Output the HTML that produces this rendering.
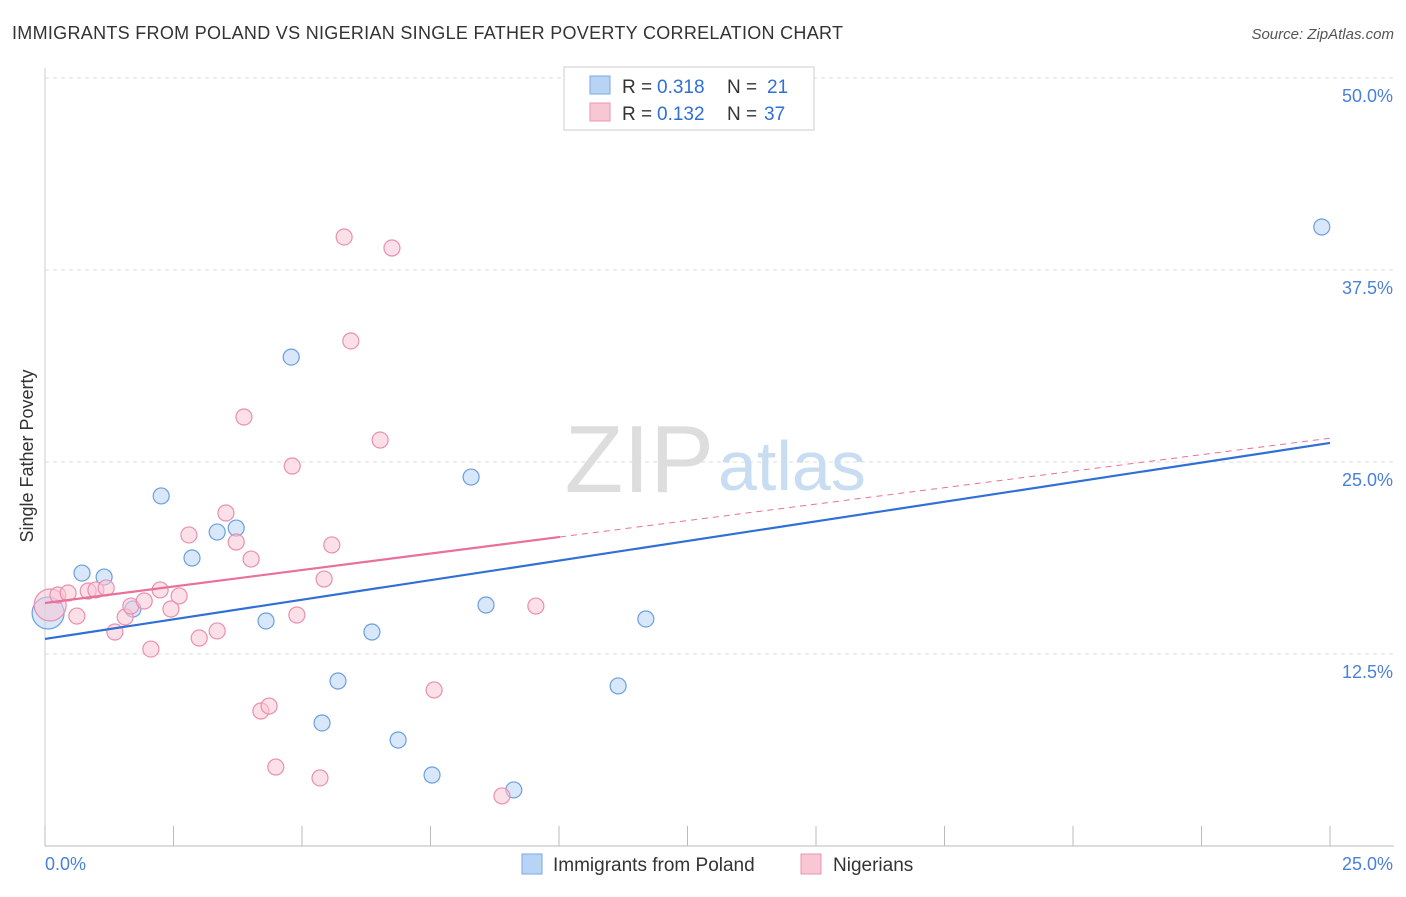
<!DOCTYPE html>
<html><head><meta charset="utf-8"><style>
body{margin:0;background:#fff;font-family:"Liberation Sans",sans-serif;}
svg text{font-family:"Liberation Sans",sans-serif;}
</style></head><body>
<svg width="1406" height="892" viewBox="0 0 1406 892">
<text x="12" y="39" font-size="18" fill="#333" textLength="831">IMMIGRANTS FROM POLAND VS NIGERIAN SINGLE FATHER POVERTY CORRELATION CHART</text>
<text x="1394" y="39" font-size="15" fill="#555" font-style="italic" text-anchor="end">Source: ZipAtlas.com</text>
<text x="33" y="456" font-size="18" fill="#333" transform="rotate(-90 33 456)" text-anchor="middle">Single Father Poverty</text>
<g id="grid"></g>
<text x="714" y="492" font-size="96" fill="#ddd" text-anchor="end" font-family="Liberation Serif">ZIP</text>
<text x="718" y="490" font-size="70" fill="#c8dcf2">atlas</text>
<g id="marks"></g>
<g>
<rect x="564" y="67" width="250" height="63" fill="#fff" stroke="#ccc"/>
<rect x="590" y="76" width="20" height="18" fill="#b8d4f5" stroke="#7aaae0"/>
<text x="622" y="93" font-size="19" fill="#333">R =</text>
<text x="657" y="93" font-size="19" fill="#2f6fd6">0.318</text>
<text x="727" y="93" font-size="19" fill="#333">N =</text>
<text x="767" y="93" font-size="19" fill="#2f6fd6">21</text>
<rect x="590" y="103" width="20" height="18" fill="#f9c6d6" stroke="#ea94b0"/>
<text x="622" y="120" font-size="19" fill="#333">R =</text>
<text x="657" y="120" font-size="19" fill="#2f6fd6">0.132</text>
<text x="727" y="120" font-size="19" fill="#333">N =</text>
<text x="764" y="120" font-size="19" fill="#2f6fd6">37</text>
</g>
<g>
<rect x="522" y="854" width="20" height="20" fill="#b8d4f5" stroke="#7aaae0"/>
<text x="553" y="871" font-size="19" fill="#333">Immigrants from Poland</text>
<rect x="801" y="854" width="20" height="20" fill="#f9c6d6" stroke="#ea94b0"/>
<text x="833" y="871" font-size="19" fill="#333">Nigerians</text>
</g>
</svg>
<script>
const yTicks=[12.5,25,37.5,50];
const yTickLabels=["12.5%","25.0%","37.5%","50.0%"];
const xTickLabels=["0.0%","25.0%"];
const polandX=[0.06,0.72,1.15,1.71,2.26,2.86,3.35,3.72,4.30,4.79,5.39,5.70,6.36,6.87,7.53,8.29,8.58,9.12,11.15,11.69,24.84];
const polandY=[15.17,17.77,17.51,15.43,22.79,18.75,20.44,20.70,14.65,31.83,8.01,10.74,13.93,6.90,4.62,24.02,15.69,3.65,10.42,14.78,40.30];
const nigX=[0.10,0.25,0.45,0.62,0.84,0.99,1.19,1.36,1.56,1.67,1.93,2.06,2.24,2.45,2.61,2.80,3.00,3.35,3.52,3.72,3.87,4.01,4.20,4.36,4.49,4.81,4.90,5.35,5.43,5.58,5.82,5.95,6.52,6.75,7.57,8.89,9.55];
const nigY=[15.69,16.34,16.47,14.97,16.60,16.67,16.80,13.93,14.91,15.62,15.95,12.82,16.67,15.43,16.28,20.25,13.54,14.00,21.68,19.79,27.93,18.68,8.79,9.11,5.14,24.74,15.04,4.43,17.38,19.60,39.65,32.88,26.43,38.93,10.16,3.26,15.62];
const polandTrend=[13.48,26.24];
const nigTrend=[15.82,26.55];
const nigSolidEnd=10.02;
const X=v=>45+v/25*1285, Y=v=>846-v/12.5*192;
const NS="http://www.w3.org/2000/svg";
function mk(t,a,p){const e=document.createElementNS(NS,t);for(const k in a)e.setAttribute(k,a[k]);p.appendChild(e);return e;}
const g=document.getElementById('grid'), m=document.getElementById('marks');
yTicks.forEach((t,i)=>{
 const l=mk('line',{x1:45,x2:1394,y1:Y(t),y2:Y(t),stroke:'#ddd','stroke-dasharray':'4 4'},g);
 
 
 const tx=mk('text',{x:1393,y:Y(t)+24,'font-size':18,fill:'#4a80d8','text-anchor':'end'},g);tx.textContent=yTickLabels[i];
 
 
});
const ax=mk('line',{x1:45,x2:1394,y1:846,y2:846,stroke:'#bbb'},g);


const ay=mk('line',{x1:45,x2:45,y1:68,y2:846,stroke:'#ccc'},g);


for(let i=0;i<=10;i++){const x=45+i*128.5;const t=mk('line',{x1:x,x2:x,y1:826,y2:846,stroke:'#bbb'},g);
 
 }
xTickLabels.forEach((s,i)=>{const t=mk('text',{x:i?1393:45,y:870,'font-size':18,fill:'#4a80d8','text-anchor':i?'end':'start'},g);t.textContent=s;
 
 });
function pts(xs,ys,fill,stroke,name){xs.forEach((x,i)=>{const c=mk('circle',{cx:X(x),cy:Y(ys[i]),r:i==0?16:8,fill:fill,'fill-opacity':0.55,stroke:stroke,'stroke-width':1.2},m);
 
 });}
pts(polandX,polandY,'#b8d4f5','#6a9fe0','poland-point');
pts(nigX,nigY,'#f9c6d6','#ea8fae','nigerian-point');
const bt=mk('line',{x1:X(0),y1:Y(polandTrend[0]),x2:X(25),y2:Y(polandTrend[1]),stroke:'#2f6fd6','stroke-width':2.2},m);


const ny=v=>nigTrend[0]+(nigTrend[1]-nigTrend[0])*v/25;
const pt=mk('line',{x1:X(0),y1:Y(nigTrend[0]),x2:X(nigSolidEnd),y2:Y(ny(nigSolidEnd)),stroke:'#e8709a','stroke-width':2.2},m);


const pd=mk('line',{x1:X(nigSolidEnd),y1:Y(ny(nigSolidEnd)),x2:X(25),y2:Y(nigTrend[1]),stroke:'#e8709a','stroke-width':1,'stroke-dasharray':'6 5'},m);


</script>
</body></html>
